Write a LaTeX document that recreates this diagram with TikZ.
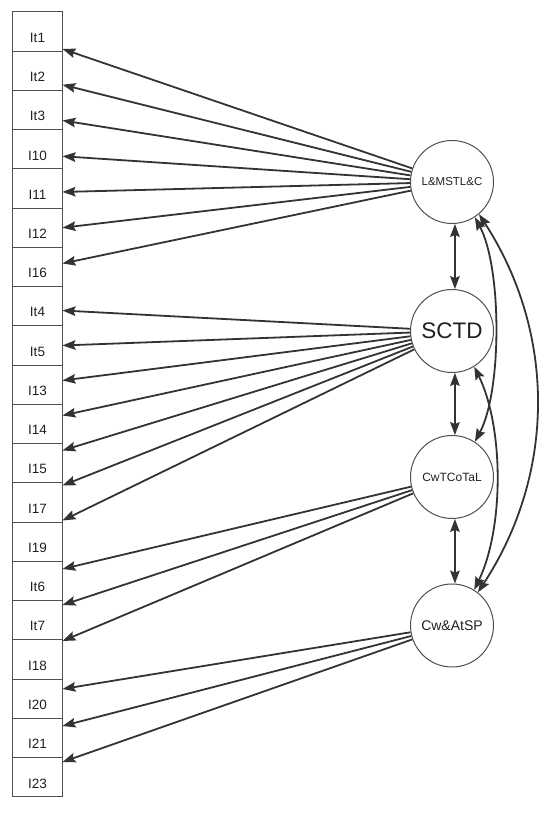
\documentclass[tikz,border=0pt]{standalone}
\usepackage{fontspec}
\setmainfont{Liberation Sans}
\usetikzlibrary{arrows.meta}
\definecolor{boxgray}{HTML}{505050}
\definecolor{arrgray}{HTML}{333333}
\definecolor{txtgray}{HTML}{202020}
\begin{document}
\begin{tikzpicture}[x=1pt,y=1pt,
  box/.style={draw=boxgray,line width=1pt,minimum width=50pt,minimum height=39.25pt,
    inner sep=0pt,outer sep=0pt},
  boxtxt/.style={text=txtgray,font=\fontsize{13.5}{14}\selectfont,yshift=-6pt},
  lat/.style={circle,draw=boxgray,line width=1pt,minimum size=83pt,inner sep=0pt,text=txtgray},
  tipst/.tip={Stealth[length=13pt,width=9.5pt,inset=2pt]},
  arr/.style={draw=arrgray,line width=1.8pt,-tipst},
  dbl/.style={draw=arrgray,line width=1.8pt,tipst-tipst}
]
\useasboundingbox (0,0) rectangle (550,813);

% boxes
\foreach \k/\t in {1/It1,2/It2,3/It3,4/I10,5/I11,6/I12,7/I16,8/It4,9/It5,10/I13,
  11/I14,12/I15,13/I17,14/I19,15/It6,16/It7,17/I18,18/I20,19/I21,20/I23}{
  \node[box,label={[boxtxt]center:\t}] (b\k) at (37.5,{801-39.25*(\k-0.5)}) {};
}

% latent circles
\node[lat,font=\fontsize{11.5}{12}\selectfont] (c1) at (452,631) {L\&MSTL\&C};
\node[lat,font=\fontsize{22.5}{24}\selectfont] (c2) at (452,482) {SCTD};
\node[lat,font=\fontsize{12}{13}\selectfont] (c3) at (452,336) {CwTCoTaL};
\node[lat,font=\fontsize{14}{15}\selectfont] (c4) at (452,187.5) {Cw\&AtSP};

% loadings
\foreach \k/\ty in {1/764,2/728.25,3/692.5,4/656.75,5/621,6/585.25,7/549.5}
  \draw[arr] (c1) -- (b\k.east |- 0,\ty);
\foreach \k/\ty in {8/502.5,9/467.5,10/432.5,11/397.5,12/362.5,13/327.5,14/292.5}
  \draw[arr] (c2) -- (b\k.east |- 0,\ty);
\foreach \k/\ty in {15/244,16/208,17/172}
  \draw[arr] (c3) -- (b\k.east |- 0,\ty);
\foreach \k/\ty in {18/124,19/87,20/51}
  \draw[arr] (c4) -- (b\k.east |- 0,\ty);

% covariances
\draw[dbl] (c1.-86) -- (c2.86);
\draw[dbl] (c2.-86) -- (c3.86);
\draw[dbl] (c3.-86) -- (c4.86);
\draw[dbl] (c1.-57) .. controls (502,545) and (502,422) .. (c3.57);
\draw[dbl] (c2.-58) .. controls (504,385) and (504,285) .. (c4.58);
\draw[dbl] (c1.-50) .. controls (556,480) and (556,340) .. (c4.52);
\end{tikzpicture}
\end{document}
